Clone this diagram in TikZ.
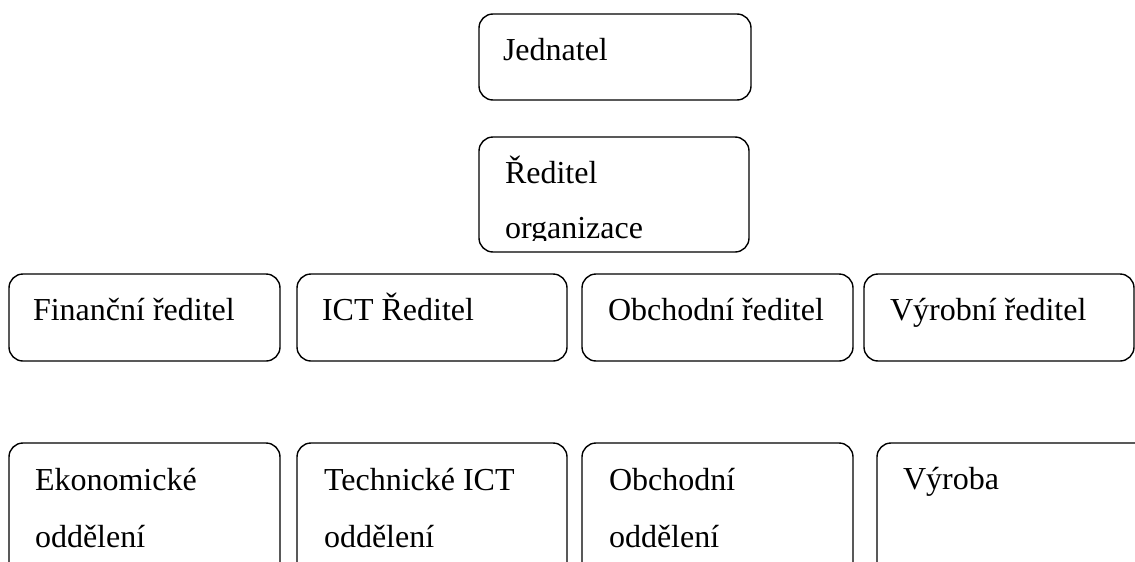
\documentclass[tikz,border=0pt]{standalone}
\usepackage{fontspec}
\setmainfont{Liberation Serif}
\begin{document}
\begin{tikzpicture}[x=1pt,y=-1pt,
  box/.style={draw=black, line width=1.4pt, rounded corners=14pt, inner sep=0pt, outer sep=0pt, rectangle},
  lbl/.style={anchor=base west, inner sep=0pt, outer sep=0pt, font=\fontsize{32}{40}\selectfont}]
\useasboundingbox (0,0) rectangle (1135,562);
\clip (0,0) rectangle (1135,562);
% top boxes
\node[box, minimum width=272, minimum height=86] (jed) at (615,57) {};
\node[box, minimum width=270, minimum height=115] (red) at (614,194.5) {};
% second row
\node[box, minimum width=271, minimum height=87] (fin) at (144.5,317.5) {};
\node[box, minimum width=270, minimum height=87] (ict) at (432,317.5) {};
\node[box, minimum width=271, minimum height=87] (obch) at (717.5,317.5) {};
\node[box, minimum width=270, minimum height=87] (vyr) at (999,317.5) {};
% third row
\node[box, minimum width=271, minimum height=177] (eko) at (144.5,531.5) {};
\node[box, minimum width=270, minimum height=177] (tech) at (432,531.5) {};
\node[box, minimum width=271, minimum height=177] (oo) at (717.5,531.5) {};
\node[box, minimum width=283, minimum height=177] (vyroba) at (1018.5,531.5) {};
% texts
\node[lbl] (tjed) at (503,60) {Jednatel};
\node[lbl] (tred1) at (505,183) {Ředitel};
\begin{scope}
\clip (480,137) rectangle (749,240);
\node[lbl] (tred2) at (505,238) {organizace};
\end{scope}
\node[lbl] (tfin) at (33,320) {Finanční ředitel};
\node[lbl] (tict) at (322,320) {ICT Ředitel};
\node[lbl] (tobch) at (608,320) {Obchodní ředitel};
\node[lbl] (tvyr) at (890,320) {Výrobní ředitel};
\node[lbl] (teko1) at (35,490) {Ekonomické};
\node[lbl] (teko2) at (35,547) {oddělení};
\node[lbl] (ttech1) at (324,490) {Technické ICT};
\node[lbl] (ttech2) at (324,547) {oddělení};
\node[lbl] (too1) at (609,490) {Obchodní};
\node[lbl] (too2) at (609,547) {oddělení};
\node[lbl] (tvyroba) at (903,489) {Výroba};
\end{tikzpicture}
\end{document}
